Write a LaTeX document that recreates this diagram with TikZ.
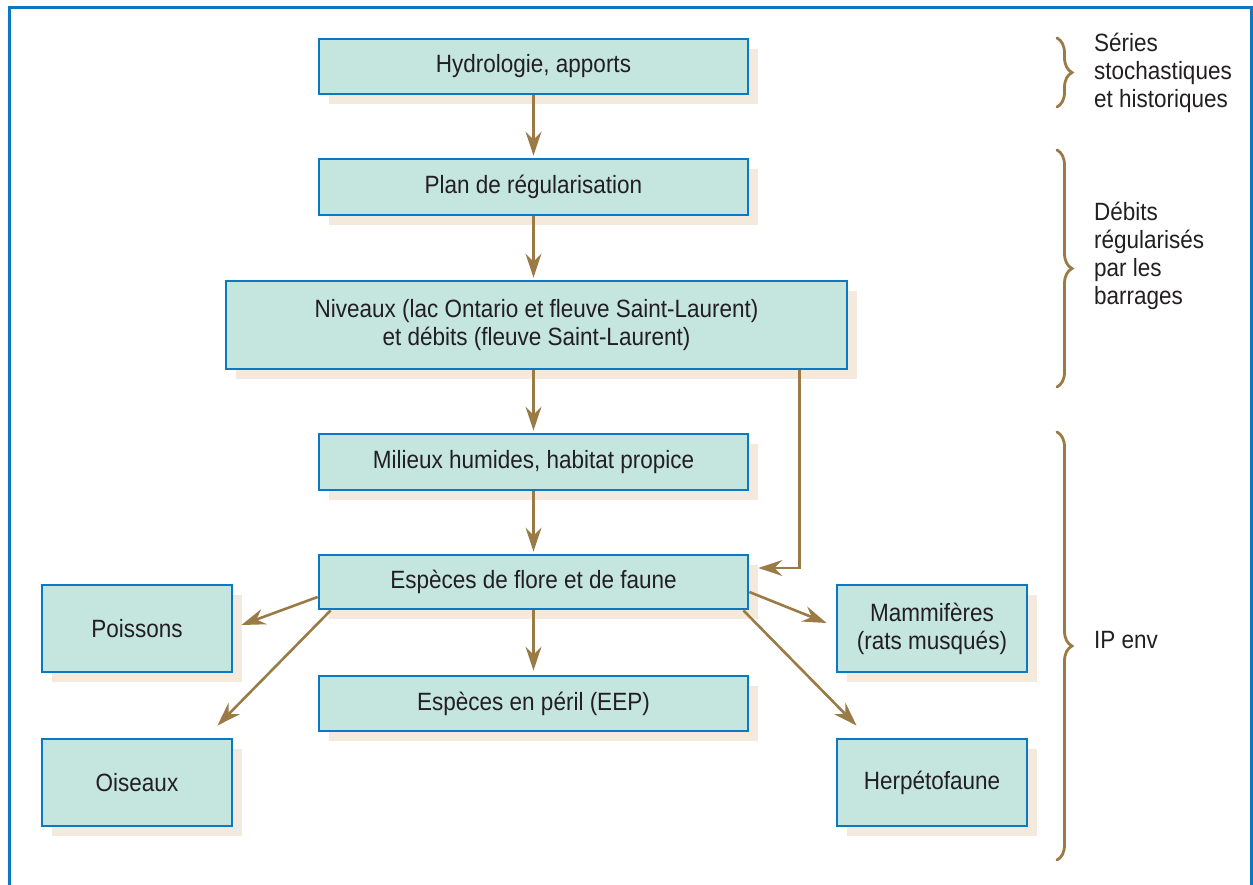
\documentclass[tikz,border=0pt]{standalone}
\usepackage{fontspec}
\setmainfont{Liberation Sans}[FakeStretch=0.9]
\usetikzlibrary{arrows.meta,shadows,decorations.pathreplacing}

\definecolor{boxfill}{HTML}{C5E5DF}
\definecolor{boxline}{HTML}{0A78C2}
\definecolor{shade}{HTML}{F3E9DD}
\definecolor{brun}{HTML}{9B7B45}
\definecolor{texte}{HTML}{231F20}

\begin{document}
\begin{tikzpicture}[
    x=1pt, y=-1pt,
    every node/.style={font=\fontsize{25}{28}\selectfont, text=texte},
    boite/.style={
      draw=boxline,
      line width=2.8pt,
      fill=boxfill,
      align=center,
      inner sep=0pt,
      general shadow={fill=shade, shadow xshift=10pt, shadow yshift=-10pt}
    },
    large/.style={boite, minimum width=429pt, minimum height=55pt},
    petite/.style={boite, minimum width=190pt, minimum height=87pt},
    fleche/.style={
      draw=brun,
      line width=2.6pt,
      -{Stealth[length=24pt, width=16pt, inset=8pt]}
    },
    accolade/.style={
      draw=brun,
      line width=2.8pt,
      line cap=round,
      decorate,
      decoration={brace, amplitude=15pt}
    }
  ]
  \useasboundingbox (0,0) rectangle (1253,884);

  % Outer frame
  \draw[boxline, line width=3pt] (9,7) rectangle (1251,900);

  % Boxes
  \node[large] (hyd) at (533.5,66.5) {Hydrologie, apports};
  \node[large, minimum height=56pt] (plan) at (533.5,187) {Plan de régularisation};
  \node[boite, minimum width=621pt, minimum height=88pt] (niv) at (536.5,325)
    {Niveaux (lac Ontario et fleuve Saint-Laurent)\\et débits (fleuve Saint-Laurent)};
  \node[large, minimum height=56pt] (mil) at (533.5,462) {Milieux humides, habitat propice};
  \node[large, minimum height=54pt] (esp) at (533.5,582) {Espèces de flore et de faune};
  \node[large] (eep) at (533.5,703.5) {Espèces en péril (EEP)};
  \node[petite] (poi) at (137,628.5) {Poissons};
  \node[petite] (ois) at (137,782.5) {Oiseaux};
  \node[petite] (mam) at (932,628.5) {Mammifères\\(rats musqués)};
  \node[petite] (her) at (932,782.5) {Herpétofaune};

  % Arrows
  \draw[fleche, shorten >=2pt] (hyd.south) -- (plan.north);
  \draw[fleche, shorten >=2pt] (plan.south) -- (plan.south |- niv.north);
  \draw[fleche, shorten >=2pt] (niv.south -| mil.north) -- (mil.north);
  \draw[fleche, shorten >=2pt] (mil.south) -- (esp.north);
  \draw[fleche] ([xshift=-49pt]niv.south east) |- ([xshift=9pt, yshift=14pt]esp.east);
  \draw[fleche, shorten >=4pt] (esp.south) -- (eep.north);
  \draw[fleche] ([yshift=-15pt]esp.west) -- ([xshift=8pt, yshift=3.5pt]poi.east);
  \draw[fleche] ([xshift=13pt]esp.south west) -- ([xshift=-16pt, yshift=12pt]ois.north east);
  \draw[fleche] ([yshift=-10pt]esp.east) -- ([xshift=-9pt, yshift=5.5pt]mam.west);
  \draw[fleche] ([xshift=-6pt]esp.south east) -- ([xshift=21pt, yshift=12pt]her.north west);

  % Braces
  \draw[accolade] (1057,38) -- (1057,107);
  \draw[accolade] (1057,150) -- (1057,387);
  \draw[accolade] (1057,432) -- (1057,860);

  % Labels
  \node[anchor=west, align=left, inner sep=0pt] (series) at (1094,73)
    {Séries\\stochastiques\\et historiques};
  \node[anchor=west, align=left, inner sep=0pt] (debits) at (1094,256)
    {Débits\\régularisés\\par les\\barrages};
  \node[anchor=west, align=left, inner sep=0pt] (ipenv) at (1094,640) {IP env};
\end{tikzpicture}
\end{document}
